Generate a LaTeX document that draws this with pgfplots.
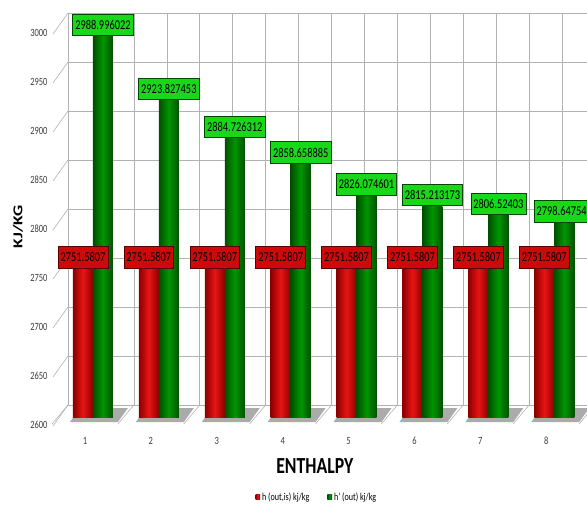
\documentclass[border=0pt]{standalone}
\usepackage{fontspec}
\setmainfont{Carlito}[FakeStretch=0.77]
\newfontfamily\plainfont{Carlito}
\usepackage{graphicx}
\usepackage{pgfplots}
\usepackage{pgfplotstable}
\pgfplotsset{compat=1.18}

\definecolor{gridgray}{RGB}{178,178,178}
\definecolor{rEdge}{RGB}{140,0,0}
\definecolor{rMid}{RGB}{232,20,20}
\definecolor{gEdge}{RGB}{0,80,0}
\definecolor{gMid}{RGB}{0,150,0}
\definecolor{rBox}{RGB}{205,10,10}
\definecolor{rBorder}{RGB}{90,0,0}
\definecolor{gBox}{RGB}{25,215,25}
\definecolor{gBorder}{RGB}{0,70,0}
\definecolor{ticktext}{RGB}{60,60,60}

% enthalpy per stage: isentropic outlet and actual outlet, kJ/kg
\pgfplotstableread{
cat hout hprime
1 2751.5807 2988.996022
2 2751.5807 2923.827453
3 2751.5807 2884.726312
4 2751.5807 2858.658885
5 2751.5807 2826.074601
6 2751.5807 2815.213173
7 2751.5807 2806.52403
8 2751.5807 2798.647541
}\enthalpy

\pgfplotsset{
  sq legend/.style={legend image code/.code={\fill[##1] (0pt,-2.4pt) rectangle (4.6pt,2.4pt);}},
  redcyl/.style={draw=none, fill=rMid, left color=rEdge, right color=rEdge, middle color=rMid,
    bar shift=-10pt, every node near coord/.append style={fill=rBox, draw=rBorder}},
  greencyl/.style={draw=none, fill=gMid, left color=gEdge, right color=gEdge, middle color=gMid,
    bar shift=10pt, every node near coord/.append style={fill=gBox, draw=gBorder}},
}

\begin{document}
\begin{tikzpicture}[x=1pt,y=1pt]
\useasboundingbox (0,0) rectangle (587,507);

% back wall with its grid, floor lines and slanted tick guides
\begin{axis}[
  at={(68pt,102pt)}, anchor=south west, scale only axis,
  width=527pt, height=392pt,
  xmin=0.5, xmax=8.5, ymin=2600, ymax=3000,
  xtick={0.5,1,...,8.5}, ytick={2600,2650,...,3000},
  xticklabels={}, yticklabels={},
  major tick length=0pt,
  grid=major, grid style={gridgray, line width=0.6pt},
  axis line style={gridgray, line width=0.6pt},
  clip=false,
]
\pgfplotsinvokeforeach{2600,2650,...,3000}{
  \draw[gridgray, line width=0.6pt] (axis cs:0.5,#1) -- ++(-15pt,-21pt);
}
\pgfplotsinvokeforeach{0.5,1.5,...,8.5}{
  \draw[gridgray, line width=0.6pt] (axis cs:#1,2600) -- ++(-16pt,-19pt);
}
\end{axis}

% front plane: the cylinders and their labels
\begin{axis}[
  at={(60pt,90pt)}, anchor=south west, scale only axis,
  width=519pt, height=392pt,
  xmin=0.5, xmax=8.375, ymin=2600, ymax=3000,
  axis line style={draw=none}, major tick length=0pt,
  xtick={1,...,8}, ytick={2600,2650,...,3000},
  /pgf/number format/assume math mode=true,
  /pgf/number format/1000 sep={},
  ticklabel style={font=\fontsize{11}{11}\selectfont, text=ticktext},
  yticklabel style={xshift=-9pt, yshift=-7.5pt},
  xticklabel style={anchor=center, xshift=-8pt, yshift=-24pt},
  ybar=0pt, bar width=20pt,
  clip=false,
  nodes near coords,
  point meta=explicit symbolic,
  every node near coord/.append style={
    font=\fontsize{13.5}{13.5}\selectfont, text=black,
    inner xsep=2.5pt, inner ysep=0pt, minimum height=21.5pt,
    line width=0.6pt, anchor=south},
  ylabel={\plainfont\bfseries\fontsize{17.5}{17.5}\selectfont\scalebox{1}[0.77]{KJ/KG}},
  ylabel style={at={(axis description cs:-0.081,0.485)}, anchor=center},
  xlabel={\bfseries\fontsize{23}{23}\selectfont ENTHALPY},
  xlabel style={at={(axis description cs:0.491,-0.125)}, anchor=center},
  legend style={at={(axis description cs:0.495,-0.204)}, anchor=center,
    draw=none, fill=none, legend columns=2,
    font=\fontsize{10.5}{10.5}\selectfont,
    /tikz/every even column/.append style={column sep=16pt}},
]
% floor shadows behind each pair of cylinders
\pgfplotsinvokeforeach{1,...,8}{
  \fill[black!60, opacity=0.55] (axis cs:#1,2600) ++(-23pt,-5pt) -- ++(48pt,0pt) -- ++(10pt,14pt) -- ++(-48pt,0pt) -- cycle;
}
\addlegendimage{redcyl, sq legend}
\addlegendentry{h (out,is) kj/kg}
\addlegendimage{greencyl, sq legend}
\addlegendentry{h' (out) kj/kg}
% one cylinder per stage so that each carries its own shading
\pgfplotsinvokeforeach{1,...,8}{
  \addplot[redcyl, restrict x to domain=#1:#1]
    table[x=cat, y=hout, meta=hout] {\enthalpy};
  \addplot[greencyl, restrict x to domain=#1:#1]
    table[x=cat, y=hprime, meta=hprime] {\enthalpy};
}
\end{axis}
\end{tikzpicture}
\end{document}
